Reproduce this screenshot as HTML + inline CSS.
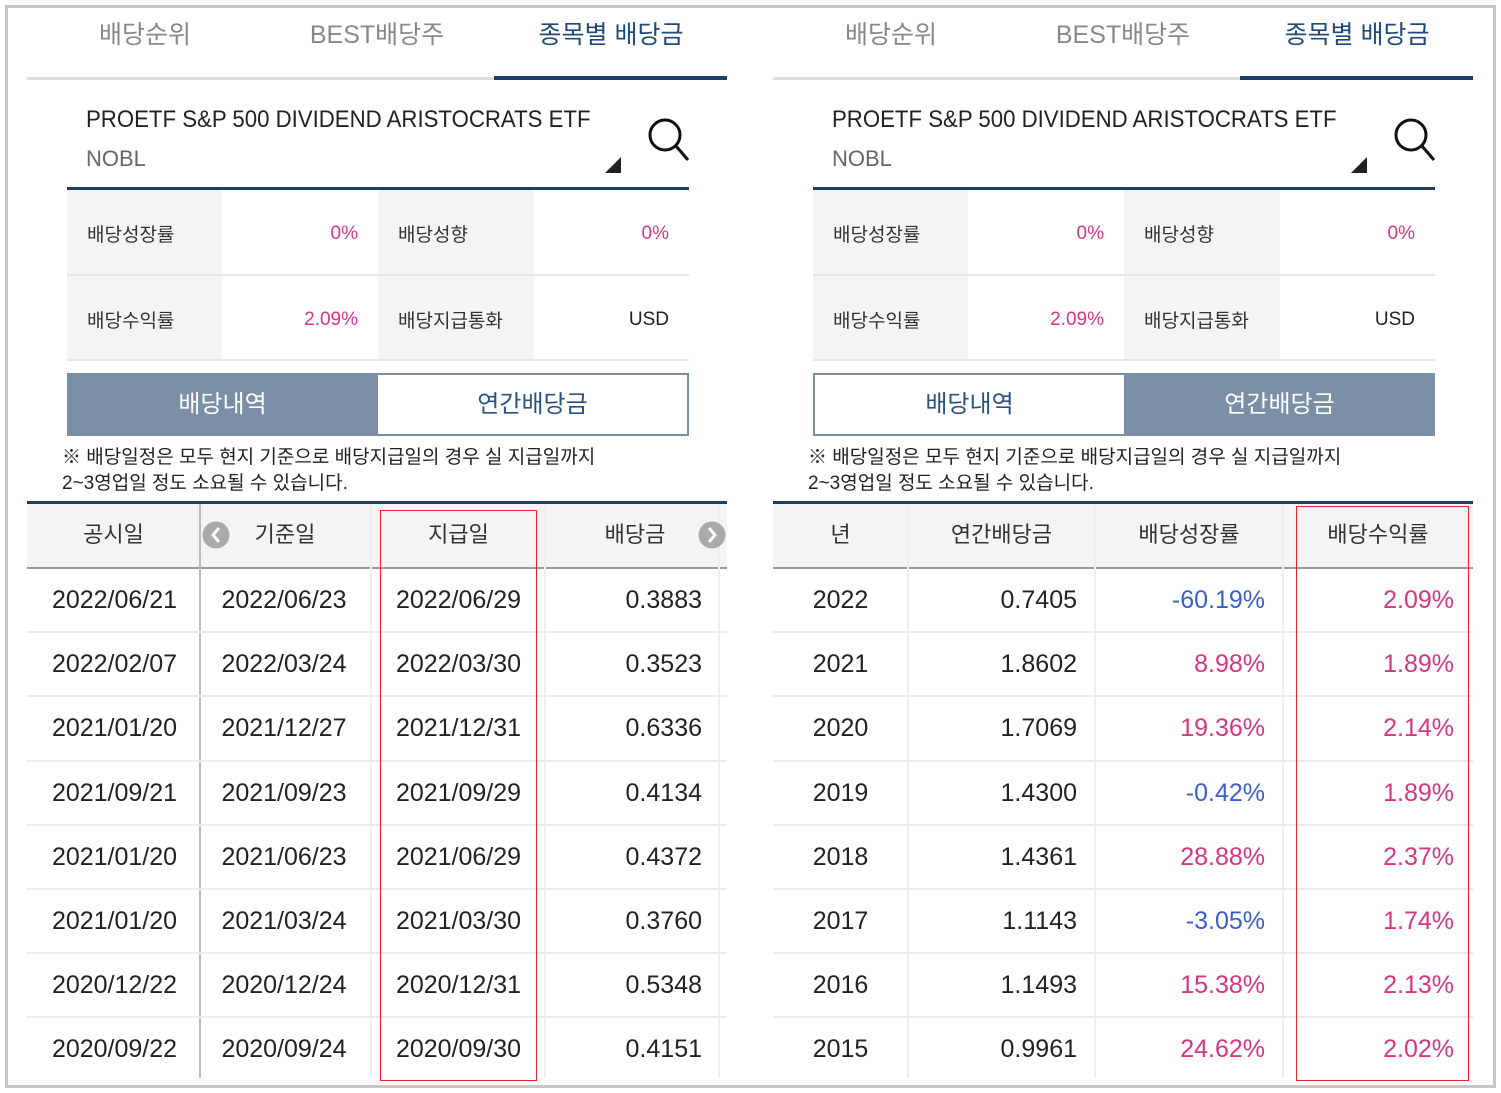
<!DOCTYPE html>
<html><head><meta charset="utf-8">
<style>
*{margin:0;padding:0;box-sizing:border-box}
body{width:1501px;height:1093px;background:#fff;position:relative;overflow:hidden;font-family:"Liberation Sans","Noto Sans CJK KR",sans-serif;color:#222}
.a{position:absolute;white-space:nowrap}
.frame{left:5px;top:5px;width:1491px;height:1083px;border:3px solid #c6c6c6}
.panel{position:absolute;top:0;width:746px;height:1093px}
.tab{top:15px;font-size:25px;color:#888;text-align:center;width:200px}
.tab.on{color:#1f4a78}
.cl{top:120px;font-size:24px;color:#222;transform:scaleX(0.925);transform-origin:left center;line-height:1}
.lab{font-size:19px;color:#333}
.val{font-size:19px;text-align:right;width:120px}
.pink{color:#d6357f}.blue{color:#3a5fc8}
.hd{font-size:22px;color:#333;text-align:center;top:520px;line-height:30px}
.cell{font-size:25px;line-height:30px}
</style></head><body>
<div class="a frame"></div>

<!-- LEFT PANEL -->
<div class="panel" style="left:0">
<div class="a tab" style="left:45px">배당순위</div>
<div class="a tab" style="left:277px">BEST배당주</div>
<div class="a tab on" style="left:511px">종목별 배당금</div>
<div class="a" style="left:27px;top:77px;width:700px;height:3px;background:#ddd"></div>
<div class="a" style="left:494px;top:76px;width:233px;height:4px;background:#1c3f66"></div>
<div class="a cl" style="left:86px;top:108px">PROETF S&amp;P 500 DIVIDEND ARISTOCRATS ETF</div>
<div class="a" style="left:86px;top:146px;font-size:22px;color:#666">NOBL</div>
<svg class="a" style="left:600px;top:110px" width="95" height="70">
<polygon points="21,47 21,63 5,63" fill="#222"/>
<circle cx="65" cy="25" r="15" fill="none" stroke="#111" stroke-width="3"/>
<line x1="76" y1="36" x2="88" y2="50" stroke="#111" stroke-width="3"/>
</svg>
<div class="a" style="left:67px;top:187px;width:622px;height:3px;background:#1c3f66"></div>
<div class="a" style="left:67px;top:190px;width:155px;height:170px;background:#f4f4f4"></div>
<div class="a" style="left:378px;top:190px;width:156px;height:170px;background:#f4f4f4"></div>
<div class="a" style="left:67px;top:274px;width:622px;height:2px;background:#e6e6e6"></div>
<div class="a" style="left:67px;top:359px;width:622px;height:2px;background:#e6e6e6"></div>
<div class="a lab" style="left:87px;top:220px">배당성장률</div>
<div class="a val pink" style="left:238px;top:223px">0%</div>
<div class="a lab" style="left:398px;top:220px">배당성향</div>
<div class="a val pink" style="left:549px;top:223px">0%</div>
<div class="a lab" style="left:87px;top:306px">배당수익률</div>
<div class="a val pink" style="left:238px;top:309px">2.09%</div>
<div class="a lab" style="left:398px;top:306px">배당지급통화</div>
<div class="a val" style="left:549px;top:309px;color:#222">USD</div>
<div class="a" style="left:67px;top:373px;width:311px;height:63px;background:#7a8ea6;color:#fff;font-size:24px;text-align:center;line-height:63px">배당내역</div>
<div class="a" style="left:378px;top:373px;width:311px;height:63px;border:2px solid #7a8ea6;border-left:none;color:#2b527f;font-size:24px;text-align:center;line-height:59px">연간배당금</div>
<div class="a" style="left:62px;top:445px;font-size:19px;line-height:26px;color:#222">※ 배당일정은 모두 현지 기준으로 배당지급일의 경우 실 지급일까지<br>2~3영업일 정도 소요될 수 있습니다.</div>
<div class="a" style="left:27px;top:501px;width:700px;height:3px;background:#1c3f66"></div>
<div class="a" style="left:27px;top:504px;width:700px;height:64px;background:#f4f4f4"></div>
<div class="a" style="left:27px;top:567px;width:700px;height:2px;background:#999"></div>
<div class="a" style="left:199px;top:504px;width:2px;height:574px;background:#bbb"></div>
<div class="a" style="left:370px;top:504px;width:2px;height:574px;background:#eee"></div>
<div class="a" style="left:544px;top:504px;width:2px;height:574px;background:#eee"></div>
<div class="a" style="left:718px;top:504px;width:2px;height:574px;background:#eee"></div>
<div class="a hd" style="left:27px;width:173px">공시일</div>
<div class="a hd" style="left:200px;width:170px">기준일</div>
<div class="a hd" style="left:380px;width:157px">지급일</div>
<div class="a hd" style="left:545px;width:180px">배당금</div>
<svg class="a" style="left:202px;top:521px" width="28" height="28"><circle cx="14" cy="14" r="13.5" fill="#a9a9a9"/><polyline points="17,7 11,14 17,21" fill="none" stroke="#fff" stroke-width="3"/></svg>
<svg class="a" style="left:698px;top:521px" width="28" height="28"><circle cx="14" cy="14" r="13.5" fill="#a9a9a9"/><polyline points="11,7 17,14 11,21" fill="none" stroke="#fff" stroke-width="3"/></svg>
<div id="lrows"></div>
<div class="a" style="left:380px;top:510px;width:157px;height:571px;border:1.5px solid #e8232a"></div>
</div>

<!-- RIGHT PANEL -->
<div class="panel" style="left:746px">
<div class="a tab" style="left:45px">배당순위</div>
<div class="a tab" style="left:277px">BEST배당주</div>
<div class="a tab on" style="left:511px">종목별 배당금</div>
<div class="a" style="left:27px;top:77px;width:700px;height:3px;background:#ddd"></div>
<div class="a" style="left:494px;top:76px;width:233px;height:4px;background:#1c3f66"></div>
<div class="a cl" style="left:86px;top:108px">PROETF S&amp;P 500 DIVIDEND ARISTOCRATS ETF</div>
<div class="a" style="left:86px;top:146px;font-size:22px;color:#666">NOBL</div>
<svg class="a" style="left:600px;top:110px" width="95" height="70">
<polygon points="21,47 21,63 5,63" fill="#222"/>
<circle cx="65" cy="25" r="15" fill="none" stroke="#111" stroke-width="3"/>
<line x1="76" y1="36" x2="88" y2="50" stroke="#111" stroke-width="3"/>
</svg>
<div class="a" style="left:67px;top:187px;width:622px;height:3px;background:#1c3f66"></div>
<div class="a" style="left:67px;top:190px;width:155px;height:170px;background:#f4f4f4"></div>
<div class="a" style="left:378px;top:190px;width:156px;height:170px;background:#f4f4f4"></div>
<div class="a" style="left:67px;top:274px;width:622px;height:2px;background:#e6e6e6"></div>
<div class="a" style="left:67px;top:359px;width:622px;height:2px;background:#e6e6e6"></div>
<div class="a lab" style="left:87px;top:220px">배당성장률</div>
<div class="a val pink" style="left:238px;top:223px">0%</div>
<div class="a lab" style="left:398px;top:220px">배당성향</div>
<div class="a val pink" style="left:549px;top:223px">0%</div>
<div class="a lab" style="left:87px;top:306px">배당수익률</div>
<div class="a val pink" style="left:238px;top:309px">2.09%</div>
<div class="a lab" style="left:398px;top:306px">배당지급통화</div>
<div class="a val" style="left:549px;top:309px;color:#222">USD</div>
<div class="a" style="left:67px;top:373px;width:311px;height:63px;border:2px solid #7a8ea6;border-right:none;color:#2b527f;font-size:24px;text-align:center;line-height:59px">배당내역</div>
<div class="a" style="left:378px;top:373px;width:311px;height:63px;background:#7a8ea6;color:#fff;font-size:24px;text-align:center;line-height:63px">연간배당금</div>
<div class="a" style="left:62px;top:445px;font-size:19px;line-height:26px;color:#222">※ 배당일정은 모두 현지 기준으로 배당지급일의 경우 실 지급일까지<br>2~3영업일 정도 소요될 수 있습니다.</div>
<div class="a" style="left:27px;top:501px;width:700px;height:3px;background:#1c3f66"></div>
<div class="a" style="left:27px;top:504px;width:700px;height:64px;background:#f4f4f4"></div>
<div class="a" style="left:27px;top:567px;width:700px;height:2px;background:#999"></div>
<div class="a" style="left:161px;top:504px;width:2px;height:574px;background:#eee"></div>
<div class="a" style="left:348px;top:504px;width:2px;height:574px;background:#eee"></div>
<div class="a" style="left:536px;top:504px;width:2px;height:574px;background:#eee"></div>
<div class="a hd" style="left:27px;width:135px">년</div>
<div class="a hd" style="left:162px;width:187px">연간배당금</div>
<div class="a hd" style="left:349px;width:188px">배당성장률</div>
<div class="a hd" style="left:537px;width:190px">배당수익률</div>
<div id="rrows"></div>
<div class="a" style="left:550px;top:506px;width:173px;height:575px;border:1.5px solid #e8232a"></div>
</div>

<script>
const announceDates=["2022/06/21","2022/02/07","2021/01/20","2021/09/21","2021/01/20","2021/01/20","2020/12/22","2020/09/22"];
const recordDates=["2022/06/23","2022/03/24","2021/12/27","2021/09/23","2021/06/23","2021/03/24","2020/12/24","2020/09/24"];
const payDates=["2022/06/29","2022/03/30","2021/12/31","2021/09/29","2021/06/29","2021/03/30","2020/12/31","2020/09/30"];
const dividends=["0.3883","0.3523","0.6336","0.4134","0.4372","0.3760","0.5348","0.4151"];
const years=["2022","2021","2020","2019","2018","2017","2016","2015"];
const annualDividends=["0.7405","1.8602","1.7069","1.4300","1.4361","1.1143","1.1493","0.9961"];
const growthRates=[-60.19,8.98,19.36,-0.42,28.88,-3.05,15.38,24.62];
const yields=[2.09,1.89,2.14,1.89,2.37,1.74,2.13,2.02];
const rowY=i=>568+i*64.2;
function cell(parent,text,left,width,align,top,color){
  const d=document.createElement('div');
  d.className='a cell';
  d.style.left=left+'px';d.style.width=width+'px';d.style.textAlign=align;
  d.style.top=(top+17)+'px';d.style.color=color||'#222';
  d.textContent=text;
  parent.appendChild(d);
  return d;
}
function sep(parent,top){
  const s=document.createElement('div');
  s.className='a';
  s.style.cssText='left:27px;width:700px;height:2px;background:#ececec;top:'+(top-1)+'px';
  
  
  parent.appendChild(s);
}
const L=document.getElementById('lrows');
announceDates.forEach((v,i)=>{
  const y=rowY(i);
  if(i>0) sep(L,y);
  let c=cell(L,v,27,175,'center',y);
  
  
  c=cell(L,recordDates[i],200,168,'center',y);
  
  
  c=cell(L,payDates[i],380,157,'center',y);
  
  
  c=cell(L,dividends[i],545,157,'right',y);
  
  
});
const R=document.getElementById('rrows');
years.forEach((v,i)=>{
  const y=rowY(i);
  if(i>0) sep(R,y);
  let c=cell(R,v,27,135,'center',y);
  
  
  c=cell(R,annualDividends[i],162,169,'right',y);
  
  
  const g=growthRates[i];
  c=cell(R,g.toFixed(2)+'%',349,170,'right',y,g<0?'#3a5fc8':'#d6357f');
  
  
  c=cell(R,yields[i].toFixed(2)+'%',537,171,'right',y,'#d6357f');
  
  
});
</script>
</body></html>
